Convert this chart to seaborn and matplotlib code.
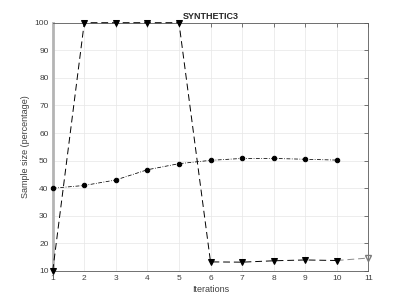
import matplotlib
matplotlib.use("Agg")
import matplotlib.pyplot as plt
import seaborn as sns
import pandas as pd

iterations_a = [1, 2, 3, 4, 5, 6, 7, 8, 9, 10]
triangle_vals = [10, 100, 100, 100, 100, 13.3, 13.2, 13.7, 14.0, 13.8]
circle_vals = [40, 41, 43, 46.7, 48.9, 50.1, 50.8, 50.8, 50.5, 50.2]
tail_x = [10, 11]
tail_vals = [13.8, 14.7]
x_ticks = list(range(1, 12))
y_ticks = [10, 20, 30, 40, 50, 60, 70, 80, 90, 100]

sns.set_style("whitegrid")
plt.rcParams['font.family'] = ['Liberation Sans', 'DejaVu Sans']

fig = plt.figure(figsize=(4.07, 3.05), dpi=100)
ax = fig.add_axes([0.1295, 0.1115, 0.7755, 0.8141])
ax.set_axisbelow(True)

df_t = pd.DataFrame({"x": iterations_a, "y": triangle_vals})
df_c = pd.DataFrame({"x": iterations_a, "y": circle_vals})
df_tail = pd.DataFrame({"x": tail_x, "y": tail_vals})

sns.lineplot(data=df_tail, x="x", y="y", ax=ax, color="#8a8a8a", lw=0.7,
             linestyle=(0, (7, 4)), marker=None)
ax.plot([tail_x[-1]], [tail_vals[-1]], marker="v", ms=5, mfc="none",
        mec="#7a7a7a", mew=1.0, ls="none", clip_on=False, zorder=5)
sns.lineplot(data=df_t, x="x", y="y", ax=ax, color="black", lw=0.7,
             linestyle=(0, (7, 4)), marker="v", markersize=5,
             markeredgecolor="black", markerfacecolor="black")
sns.lineplot(data=df_c, x="x", y="y", ax=ax, color="black", lw=0.55,
             linestyle=(0, (5, 2, 1, 2)), marker="o", markersize=3.2,
             markeredgecolor="black", markerfacecolor="black")
for l in ax.lines:
    l.set_clip_on(False)
    l.set_zorder(4)

ax.set_xlim(1, 11)
ax.set_ylim(10, 100)
ax.set_xticks(x_ticks)
ax.set_yticks(y_ticks)
ax.tick_params(axis="both", labelsize=6, colors="#404040", direction="in",
               length=3, width=0.5, top=True, right=True, pad=3)
ax.grid(True, color="#e6e6e6", lw=0.5)
for s in ["top", "right", "bottom"]:
    ax.spines[s].set_color("#5a5a5a")
    ax.spines[s].set_linewidth(0.6)
ax.spines["left"].set_color("#b4b4b4")
ax.spines["left"].set_linewidth(2.0)
ax.spines["left"].set_zorder(2)
ax.set_xlabel("Iterations", fontsize=6.5, color="#404040", labelpad=2)
ax.set_ylabel("Sample size (percentage)", fontsize=6.5, color="#404040", labelpad=3)
ax.set_title("SYNTHETIC3", fontsize=6.5, fontweight="bold", pad=3)

fig.savefig("out.png", dpi=100)
